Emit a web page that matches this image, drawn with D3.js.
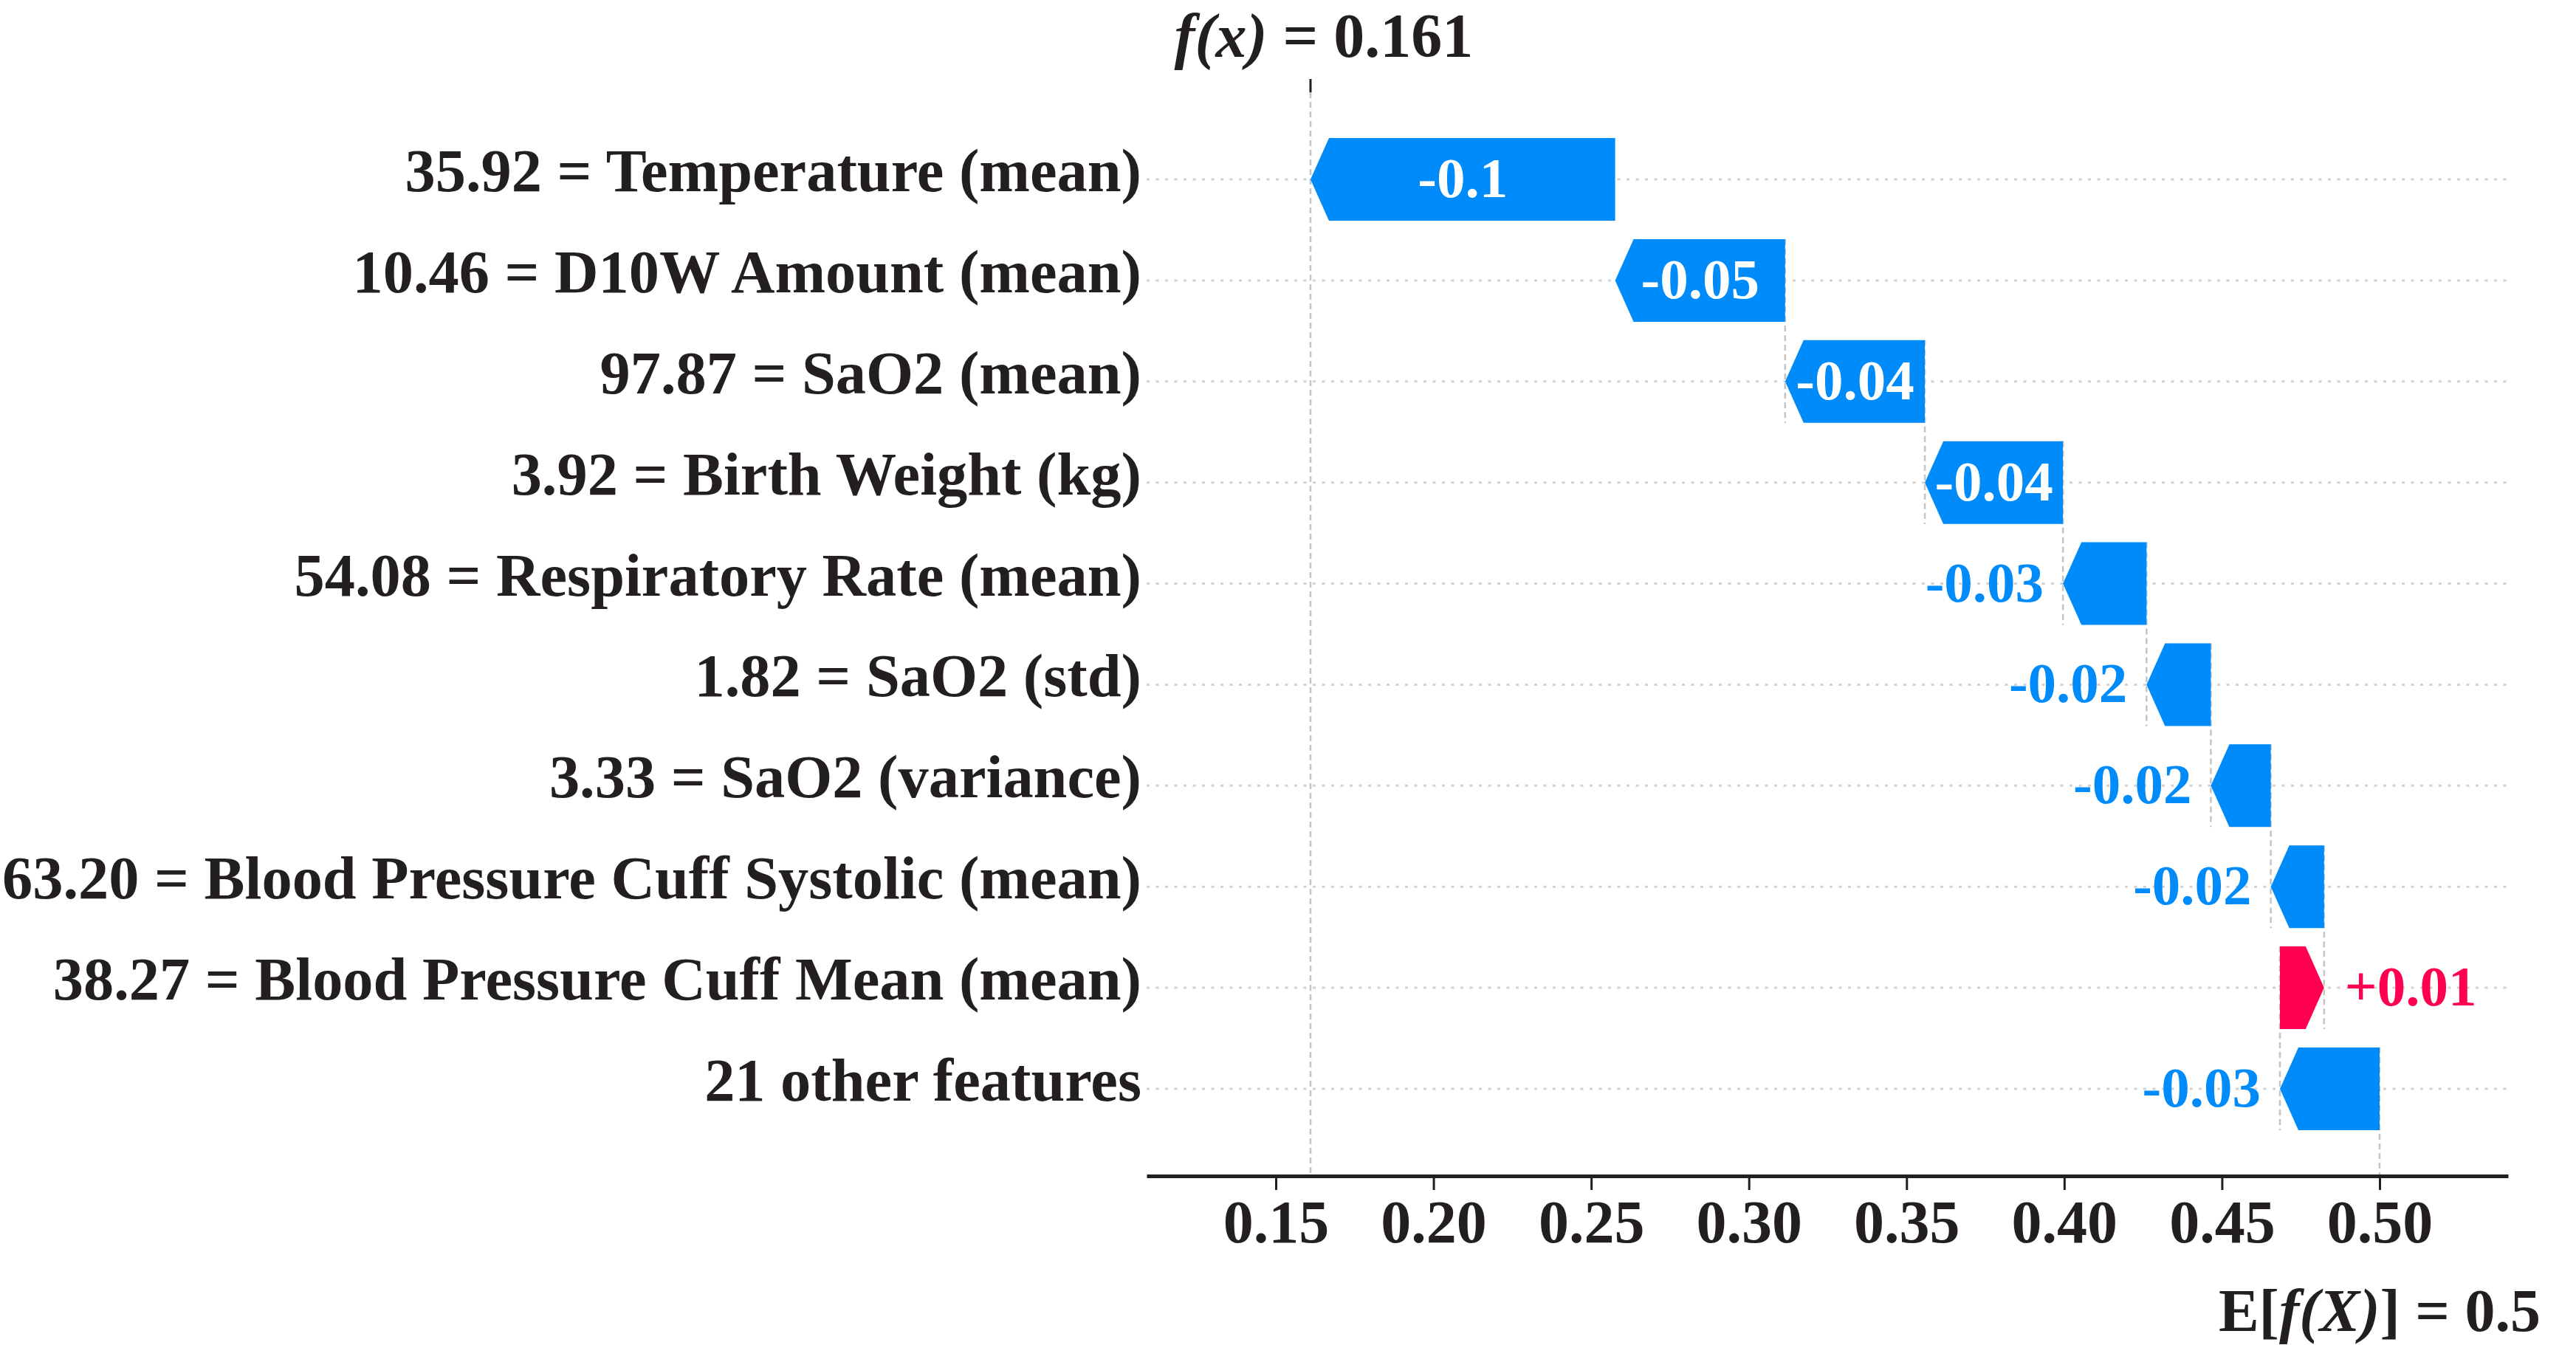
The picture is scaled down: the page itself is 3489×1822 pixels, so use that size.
<!DOCTYPE html>
<html>
<head>
<meta charset="utf-8">
<script src="https://cdn.jsdelivr.net/npm/d3@7/dist/d3.min.js"></script>
<style>
  html, body { margin: 0; padding: 0; background: #ffffff; overflow: hidden; }
  svg { display: block; }
  text { font-family: "Liberation Serif", "Times New Roman", serif; font-weight: bold; }
</style>
</head>
<body>
<svg id="chart" width="3489" height="1822"></svg>
<script>
// ---- data (top row first) ----
const featureLabels = [
  "35.92 = Temperature (mean)",
  "10.46 = D10W Amount (mean)",
  "97.87 = SaO2 (mean)",
  "3.92 = Birth Weight (kg)",
  "54.08 = Respiratory Rate (mean)",
  "1.82 = SaO2 (std)",
  "3.33 = SaO2 (variance)",
  "63.20 = Blood Pressure Cuff Systolic (mean)",
  "38.27 = Blood Pressure Cuff Mean (mean)",
  "21 other features"
];
const shapValues = [-0.0966, -0.0539, -0.0443, -0.0438, -0.0265, -0.0204, -0.0190, -0.0169, 0.0140, -0.0316];
const valueLabels = ["-0.1", "-0.05", "-0.04", "-0.04", "-0.03", "-0.02", "-0.02", "-0.02", "+0.01", "-0.03"];
const baseValue = 0.5;
const fxValue = 0.161;
const fxLabel = "0.161";
const baseLabel = "0.5";
const tickValues = [0.15, 0.20, 0.25, 0.30, 0.35, 0.40, 0.45, 0.50];

// ---- layout ----
const BLUE = "#008bfb", RED = "#ff0051", INK = "#231f20";
const svg = d3.select("#chart");
const x = d3.scaleLinear().domain([0.10903, 0.54074]).range([1553, 3397]);
const n = featureLabels.length;
const y = d3.scaleLinear().domain([-0.862, n - 1 + 0.862]).range([125, 1593]);
const rowStep = y(1) - y(0);
const barH = 112;
const axisY = y.range()[1];

// cumulative positions, built from the base value upward
const rows = featureLabels.map((label, i) => ({ label, value: shapValues[i], text: valueLabels[i], i }));
let loc = baseValue;
for (let i = n - 1; i >= 0; i--) {
  rows[i].start = loc;
  rows[i].end = loc + rows[i].value;
  loc = rows[i].end;
}

// gridlines
svg.append("g").selectAll("line").data(rows).join("line")
  .attr("x1", x.range()[0]).attr("x2", x.range()[1])
  .attr("y1", d => y(d.i)).attr("y2", d => y(d.i))
  .attr("stroke", "#d2d2d2").attr("stroke-width", 3)
  .attr("stroke-dasharray", "4 8.5");

// f(x) line
svg.append("line")
  .attr("x1", x(fxValue)).attr("x2", x(fxValue))
  .attr("y1", y.range()[0]).attr("y2", axisY)
  .attr("stroke", "#c4c4c4").attr("stroke-width", 2.5).attr("stroke-dasharray", "8 5");

// connectors
svg.append("g").selectAll("line").data(rows.filter(d => d.i > 0)).join("line")
  .attr("x1", d => x(d.start)).attr("x2", d => x(d.start))
  .attr("y1", d => y(d.i) - barH / 2)
  .attr("y2", d => Math.min(axisY, y(d.i) + barH / 2 + rowStep))
  .attr("stroke", "#c4c4c4").attr("stroke-width", 2.5).attr("stroke-dasharray", "8 5");

// bars
function arrowPath(d) {
  const x0 = x(d.start), x1 = x(d.end);
  const cy = y(d.i), t = cy - barH / 2, b = cy + barH / 2;
  const dir = x1 < x0 ? -1 : 1;
  const head = Math.min(25, Math.abs(x1 - x0));
  const xh = x1 - dir * head;
  return `M${x0},${t}L${xh},${t}L${x1},${cy}L${xh},${b}L${x0},${b}Z`;
}
svg.append("g").selectAll("path").data(rows).join("path")
  .attr("d", arrowPath)
  .attr("fill", d => d.value < 0 ? BLUE : RED);

// value labels
const vl = svg.append("g").selectAll("text").data(rows).join("text")
  .attr("font-size", 77)
  .attr("y", d => y(d.i) + 24)
  .text(d => d.text);
vl.each(function(d) {
  const w = this.getComputedTextLength();
  const x0 = x(d.start), x1 = x(d.end);
  const barW = Math.abs(x1 - x0);
  const sel = d3.select(this);
  if (w + 20 < barW) {
    sel.attr("x", (x0 + x1) / 2).attr("text-anchor", "middle").attr("fill", "#ffffff");
  } else if (d.value < 0) {
    sel.attr("x", x1 - 26).attr("text-anchor", "end").attr("fill", BLUE);
  } else {
    sel.attr("x", x1 + 28).attr("text-anchor", "start").attr("fill", RED);
  }
});

// feature labels
svg.append("g").selectAll("text").data(rows).join("text")
  .attr("x", 1546).attr("y", d => y(d.i) + 16)
  .attr("text-anchor", "end").attr("font-size", 82.4).attr("fill", INK)
  .text(d => d.label);

// bottom axis
const axis = svg.append("g").attr("transform", `translate(0,${axisY})`)
  .call(d3.axisBottom(x).tickValues(tickValues).tickFormat(d3.format(".2f")).tickSize(19).tickSizeOuter(0));
axis.select(".domain").attr("stroke", INK).attr("stroke-width", 5);
axis.selectAll(".tick line").attr("stroke", INK).attr("stroke-width", 3);
axis.selectAll(".tick text")
  .attr("y", 90).attr("dy", null)
  .attr("font-size", 82).attr("fill", INK)
  .attr("font-family", "Liberation Serif").attr("font-weight", "bold");

// top tick for f(x)
svg.append("line")
  .attr("x1", x(fxValue)).attr("x2", x(fxValue))
  .attr("y1", 107).attr("y2", y.range()[0])
  .attr("stroke", INK).attr("stroke-width", 3);

const fxText = svg.append("text")
  .attr("x", x(fxValue) + 18).attr("y", 77)
  .attr("text-anchor", "middle").attr("font-size", 84).attr("fill", INK);
fxText.append("tspan").attr("font-style", "italic").text("f(x)");
fxText.append("tspan").text(" = " + fxLabel);

// E[f(X)] label
const eText = svg.append("text")
  .attr("x", x(baseValue)).attr("y", 1803)
  .attr("text-anchor", "middle").attr("font-size", 82).attr("fill", INK);
eText.append("tspan").text("E[");
eText.append("tspan").attr("font-style", "italic").text("f(X)");
eText.append("tspan").text("] = " + baseLabel);
</script>
</body>
</html>
